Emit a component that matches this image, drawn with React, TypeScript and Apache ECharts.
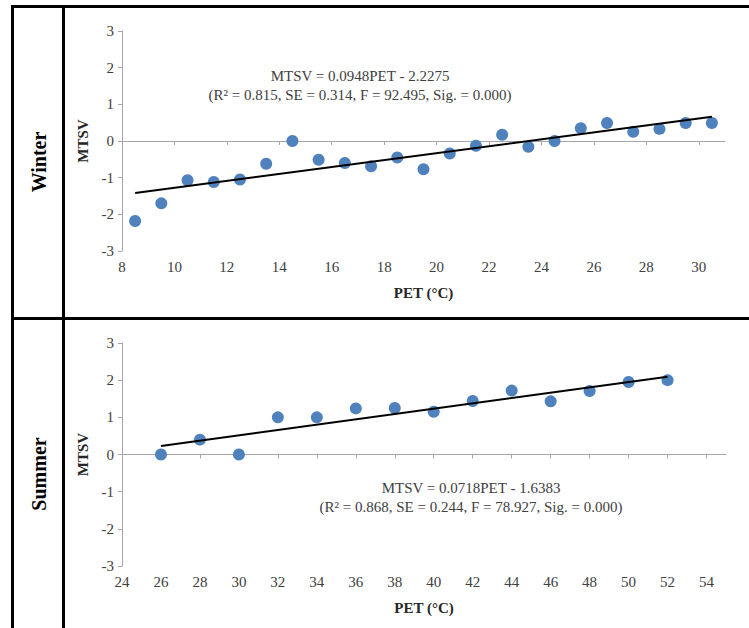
import React, { useEffect, useRef } from "react";
import * as echarts from "echarts";

// Winter panel data
const winterPET = [8.5, 9.5, 10.5, 11.5, 12.5, 13.5, 14.5, 15.5, 16.5, 17.5, 18.5, 19.5, 20.5, 21.5, 22.5, 23.5, 24.5, 25.5, 26.5, 27.5, 28.5, 29.5, 30.5];
const winterMTSV = [-2.18, -1.7, -1.07, -1.12, -1.05, -0.62, 0, -0.51, -0.6, -0.69, -0.45, -0.77, -0.34, -0.13, 0.17, -0.16, 0, 0.35, 0.49, 0.25, 0.33, 0.49, 0.49];
const winterTrendX = [8.5, 30.5];
const winterTrendY = [-1.42, 0.66];
const winterXTicks = [8, 10, 12, 14, 16, 18, 20, 22, 24, 26, 28, 30];
const winterEquation = ["MTSV = 0.0948PET - 2.2275", "(R² = 0.815, SE = 0.314, F = 92.495, Sig. = 0.000)"];

// Summer panel data
const summerPET = [26, 28, 30, 32, 34, 36, 38, 40, 42, 44, 46, 48, 50, 52];
const summerMTSV = [0, 0.4, 0, 1.0, 1.0, 1.24, 1.25, 1.15, 1.44, 1.72, 1.43, 1.71, 1.95, 2.0];
const summerTrendX = [26, 52];
const summerTrendY = [0.23, 2.09];
const summerXTicks = [24, 26, 28, 30, 32, 34, 36, 38, 40, 42, 44, 46, 48, 50, 52, 54];
const summerEquation = ["MTSV = 0.0718PET - 1.6383", "(R² = 0.868, SE = 0.244, F = 78.927, Sig. = 0.000)"];

const yTicks = [-3, -2, -1, 0, 1, 2, 3];
const panelLabels = ["Winter", "Summer"];
const xName = "PET (°C)";
const yName = "MTSV";

const FONT = "'Liberation Serif', 'Times New Roman', serif";
const AXIS_COLOR = "#a6a6a6";
const LABEL_COLOR = "#404040";

function xAxis(gridIndex: number, min: number, max: number, ticks: number[]) {
  return {
    type: "value",
    gridIndex,
    min,
    max,
    name: xName,
    nameLocation: "middle",
    nameGap: 34,
    nameTextStyle: { fontFamily: FONT, fontWeight: "bold", fontSize: 15, color: "#262626" },
    axisLine: { show: true, lineStyle: { color: AXIS_COLOR, width: 1 } },
    axisTick: { show: true, length: 4, lineStyle: { color: AXIS_COLOR }, customValues: ticks },
    axisLabel: { fontFamily: FONT, fontSize: 15, color: LABEL_COLOR, margin: 8, customValues: ticks },
    splitLine: { show: false },
  };
}

function yAxis(gridIndex: number) {
  return {
    type: "value",
    gridIndex,
    min: -3,
    max: 3,
    interval: 1,
    name: yName,
    nameLocation: "middle",
    nameGap: 27,
    nameRotate: 90,
    nameTextStyle: { fontFamily: FONT, fontWeight: "bold", fontSize: 15, color: "#262626" },
    axisLine: { show: true, lineStyle: { color: AXIS_COLOR, width: 1 } },
    axisTick: { show: true, length: 4, lineStyle: { color: AXIS_COLOR }, customValues: yTicks },
    axisLabel: { fontFamily: FONT, fontSize: 15, color: LABEL_COLOR, margin: 8, customValues: yTicks },
    splitLine: { show: false },
  };
}

function zip(xs: number[], ys: number[]) {
  return xs.map((x, i) => [x, ys[i]]);
}

export default function App() {
  const ref = useRef<HTMLDivElement>(null);

  useEffect(() => {
    if (!ref.current) return;
    const chart = echarts.init(ref.current, undefined, { renderer: "svg" });
    const borderStyle = { stroke: "#000", lineWidth: 3 };
    const option = {
      animation: false,
      backgroundColor: "#ffffff",
      grid: [
        { left: 122, top: 31, width: 603, height: 220, containLabel: false },
        { left: 122, top: 343, width: 604, height: 223, containLabel: false },
      ],
      xAxis: [xAxis(0, 8, 31, winterXTicks), xAxis(1, 24, 55, summerXTicks)],
      yAxis: [yAxis(0), yAxis(1)],
      series: [
        {
          type: "line",
          xAxisIndex: 0,
          yAxisIndex: 0,
          data: zip(winterTrendX, winterTrendY),
          symbol: "none",
          lineStyle: { color: "#000", width: 2 },
          z: 3,
        },
        {
          type: "scatter",
          xAxisIndex: 0,
          yAxisIndex: 0,
          data: zip(winterPET, winterMTSV),
          symbolSize: 12,
          itemStyle: { color: "#4f81bd", opacity: 1 },
          z: 2,
        },
        {
          type: "line",
          xAxisIndex: 1,
          yAxisIndex: 1,
          data: zip(summerTrendX, summerTrendY),
          symbol: "none",
          lineStyle: { color: "#000", width: 2 },
          z: 3,
        },
        {
          type: "scatter",
          xAxisIndex: 1,
          yAxisIndex: 1,
          data: zip(summerPET, summerMTSV),
          symbolSize: 12,
          itemStyle: { color: "#4f81bd", opacity: 1 },
          z: 2,
        },
      ],
      graphic: [
        { type: "line", shape: { x1: 11, y1: 6.5, x2: 749, y2: 6.5 }, style: borderStyle },
        { type: "line", shape: { x1: 11, y1: 318.5, x2: 749, y2: 318.5 }, style: borderStyle },
        { type: "line", shape: { x1: 12.5, y1: 5, x2: 12.5, y2: 628 }, style: borderStyle },
        { type: "line", shape: { x1: 63.5, y1: 5, x2: 63.5, y2: 628 }, style: borderStyle },
        {
          type: "text",
          x: 39,
          y: 162,
          rotation: Math.PI / 2,
          style: {
            text: panelLabels[0],
            font: `bold 20px ${FONT}`,
            fill: "#000",
            align: "center",
            verticalAlign: "middle",
          },
        },
        {
          type: "text",
          x: 39,
          y: 474,
          rotation: Math.PI / 2,
          style: {
            text: panelLabels[1],
            font: `bold 20px ${FONT}`,
            fill: "#000",
            align: "center",
            verticalAlign: "middle",
          },
        },
        {
          type: "text",
          x: 360,
          y: 85,
          style: {
            text: winterEquation.join("\n"),
            font: `15px ${FONT}`,
            fill: LABEL_COLOR,
            align: "center",
            verticalAlign: "middle",
            lineHeight: 19,
          },
        },
        {
          type: "text",
          x: 471,
          y: 497,
          style: {
            text: summerEquation.join("\n"),
            font: `15px ${FONT}`,
            fill: LABEL_COLOR,
            align: "center",
            verticalAlign: "middle",
            lineHeight: 19,
          },
        },
      ],
    };
    chart.setOption(option as any);
    return () => chart.dispose();
  }, []);

  return (
    <div
      ref={ref}
      style={{ position: "absolute", left: 0, top: 0, width: 749, height: 628 }}
    />
  );
}
